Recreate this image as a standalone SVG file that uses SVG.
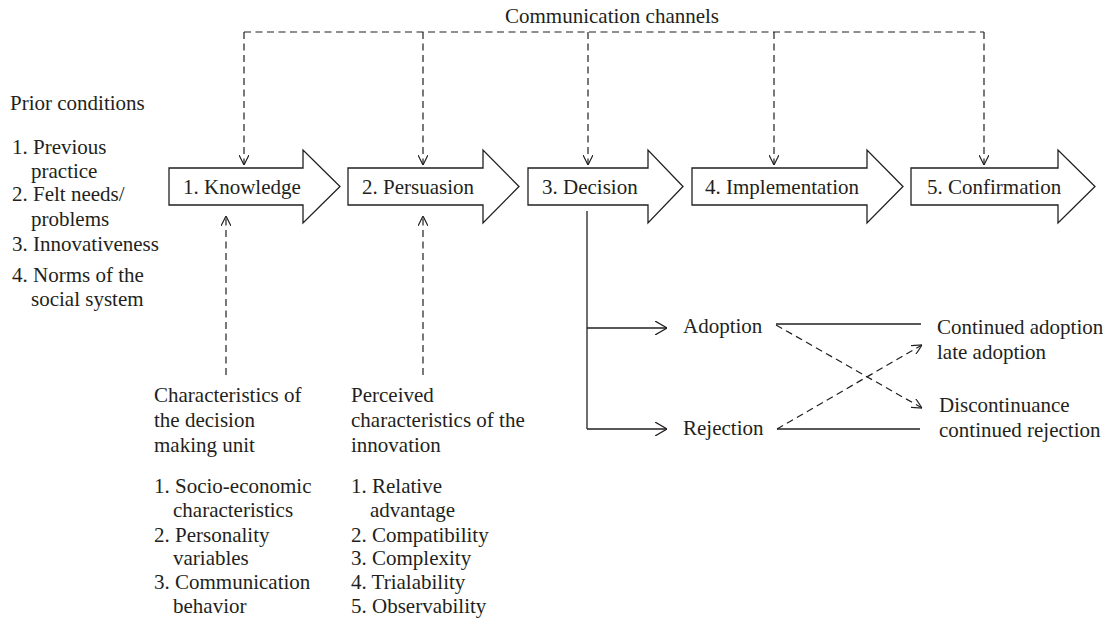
<svg xmlns="http://www.w3.org/2000/svg" width="1116" height="625" viewBox="0 0 1116 625">
  <style>
    text { font-family: "Liberation Serif", "Times New Roman", serif; font-size: 21px; fill: #231f20; }
    .stage { fill: #ffffff; stroke: #231f20; stroke-width: 1.3; stroke-linejoin: miter; }
    .dash { fill: none; stroke: #231f20; stroke-width: 1.2; stroke-dasharray: 7 4.5; }
    .solid { fill: none; stroke: #231f20; stroke-width: 1.3; }
  </style>
  <defs>
    <marker id="open" viewBox="0 0 10 10" refX="10" refY="5" markerWidth="10" markerHeight="10" markerUnits="userSpaceOnUse" orient="auto">
      <path d="M0,0 L10,5 L0,10" fill="none" stroke="#231f20" stroke-width="1.2" stroke-dasharray="none"/>
    </marker>
    <marker id="openLarge" viewBox="0 0 12 14" refX="12" refY="7" markerWidth="12" markerHeight="14" markerUnits="userSpaceOnUse" orient="auto">
      <path d="M0,0 L12,7 L0,14" fill="none" stroke="#231f20" stroke-width="1.3" stroke-dasharray="none"/>
    </marker>
  </defs>

  <!-- connectors -->
  <g id="connectors">
    <!-- communication channels feed -->
    <text x="505" y="23">Communication channels</text>
    <path class="dash" d="M244,32 H984"/>
    <path class="dash" d="M244,32 V165" marker-end="url(#open)"/>
    <path class="dash" d="M423,32 V165" marker-end="url(#open)"/>
    <path class="dash" d="M588,32 V165" marker-end="url(#open)"/>
    <path class="dash" d="M774,32 V165" marker-end="url(#open)"/>
    <path class="dash" d="M984,32 V165" marker-end="url(#open)"/>
    <!-- characteristics into stages 1 and 2 -->
    <path class="dash" d="M226,375 V216" marker-end="url(#open)"/>
    <path class="dash" d="M423,375 V216" marker-end="url(#open)"/>
    <!-- decision branches -->
    <path class="solid" d="M587,211 V429"/>
    <path class="solid" d="M587,328 H667" marker-end="url(#openLarge)"/>
    <path class="solid" d="M587,429 H667" marker-end="url(#openLarge)"/>
    <!-- outcomes -->
    <path class="solid" d="M776,324 H921"/>
    <path class="solid" d="M777,429 H920"/>
    <path class="dash" d="M776,325 L922,408" marker-end="url(#open)"/>
    <path class="dash" d="M777,429 L922,345" marker-end="url(#open)"/>
  </g>

  <!-- stages -->
  <g id="stage-knowledge">
    <polygon class="stage" points="169,168 303,168 303,150 340,186.5 303,223 303,205 169,205"/>
    <text x="183" y="194">1. Knowledge</text>
  </g>
  <g id="stage-persuasion">
    <polygon class="stage" points="348,168 483,168 483,150 519,186.5 483,223 483,205 348,205"/>
    <text x="362" y="194">2. Persuasion</text>
  </g>
  <g id="stage-decision">
    <polygon class="stage" points="528,168 648,168 648,150 683,186.5 648,223 648,205 528,205"/>
    <text x="542" y="194">3. Decision</text>
  </g>
  <g id="stage-implementation">
    <polygon class="stage" points="692,168 867,168 867,150 903,186.5 867,223 867,205 692,205"/>
    <text x="705" y="194">4. Implementation</text>
  </g>
  <g id="stage-confirmation">
    <polygon class="stage" points="911,168 1058,168 1058,150 1095,186.5 1058,223 1058,205 911,205"/>
    <text x="927" y="194">5. Confirmation</text>
  </g>

  <!-- prior conditions -->
  <g id="prior-conditions">
    <text x="10" y="110">Prior conditions</text>
    <text x="12" y="154">1. Previous</text>
    <text x="31" y="178">practice</text>
    <text x="12" y="201">2. Felt needs/</text>
    <text x="31" y="226">problems</text>
    <text x="12" y="251">3. Innovativeness</text>
    <text x="12" y="282">4. Norms of the</text>
    <text x="31" y="306">social system</text>
  </g>

  <!-- decision making unit -->
  <g id="decision-unit">
    <text x="154" y="402">Characteristics of</text>
    <text x="154" y="427">the decision</text>
    <text x="154" y="452">making unit</text>
    <text x="154" y="493">1. Socio-economic</text>
    <text x="173" y="517">characteristics</text>
    <text x="154" y="542">2. Personality</text>
    <text x="173" y="565">variables</text>
    <text x="154" y="589">3. Communication</text>
    <text x="173" y="613">behavior</text>
  </g>

  <!-- innovation characteristics -->
  <g id="innovation-characteristics">
    <text x="351" y="402">Perceived</text>
    <text x="351" y="427">characteristics of the</text>
    <text x="351" y="452">innovation</text>
    <text x="351" y="493">1. Relative</text>
    <text x="370" y="517">advantage</text>
    <text x="351" y="542">2. Compatibility</text>
    <text x="351" y="565">3. Complexity</text>
    <text x="351" y="589">4. Trialability</text>
    <text x="351" y="613">5. Observability</text>
  </g>

  <!-- decision outcomes -->
  <g id="adoption">
    <text x="683" y="333">Adoption</text>
  </g>
  <g id="rejection">
    <text x="683" y="435">Rejection</text>
  </g>
  <g id="continued-adoption">
    <text x="937" y="334">Continued adoption</text>
    <text x="937" y="359">late adoption</text>
  </g>
  <g id="discontinuance">
    <text x="939" y="412">Discontinuance</text>
    <text x="939" y="437">continued rejection</text>
  </g>
</svg>
